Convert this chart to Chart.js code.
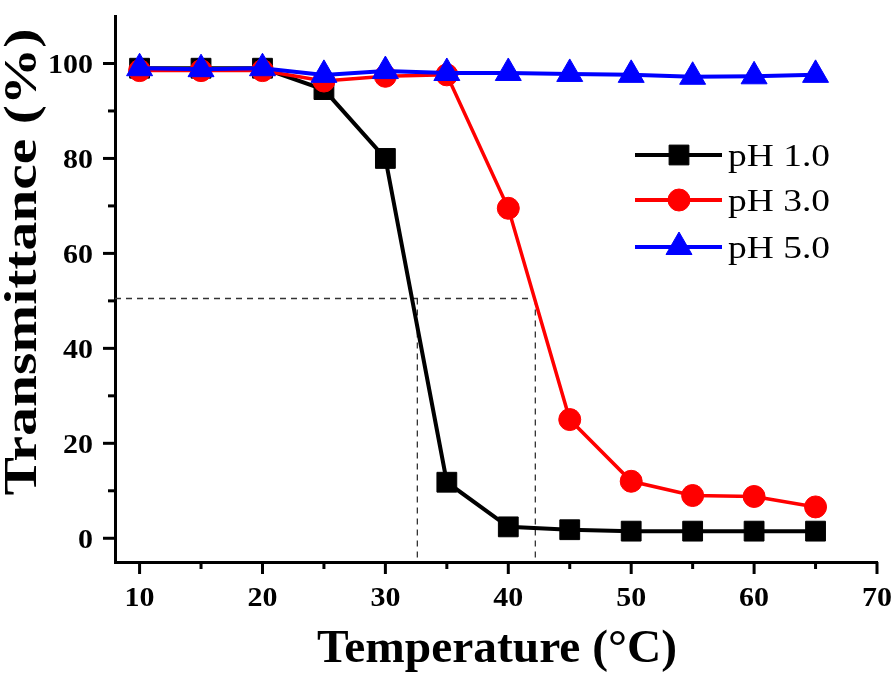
<!DOCTYPE html>
<html>
<head>
<meta charset="utf-8">
<script src="https://cdn.jsdelivr.net/npm/chart.js@4/dist/chart.umd.min.js"></script>
<style>
  html, body { margin: 0; padding: 0; background: #ffffff; }
  #wrap { width: 894px; height: 674px; position: relative; }
</style>
</head>
<body>
<div id="wrap"><canvas id="c" width="894" height="674"></canvas></div>
<script>
// ---- data ----
const temperatures = [10, 15, 20, 25, 30, 35, 40, 45, 50, 55, 60, 65];
const ph1 = [99, 99, 99, 94.5, 80, 11.8, 2.4, 1.8, 1.5, 1.5, 1.5, 1.5];
const ph3 = [98.5, 98.5, 98.5, 96.3, 97.3, 97.6, 69.5, 25, 12, 9, 8.8, 6.6];
const ph5 = [99, 98.8, 99, 97.6, 98.4, 98, 98, 97.8, 97.6, 97.2, 97.3, 97.6];
const seriesNames = ['pH 1.0', 'pH 3.0', 'pH 5.0'];
const xTickLabels = [10, 20, 30, 40, 50, 60, 70];
const yTickLabels = [0, 20, 40, 60, 80, 100];
const halfLevel = 50.5;
const lcstValues = [32.6, 42.2];
const xTitle = 'Temperature (°C)';
const yTitle = 'Transmittance (%)';

const X_MIN = 8, X_MAX = 70, Y_MIN = -5, Y_MAX = 110;

const toPts = (arr) => temperatures.map((t, i) => ({ x: t, y: arr[i] }));

const colors = ['#000000', '#ff0000', '#0000ff'];
const styles = ['rect', 'circle', 'triangle'];
const radii = [14, 11, 15];
const widths = [4, 3.5, 4];
const values = [ph1, ph3, ph5];

const datasets = values.map((v, i) => ({
  label: seriesNames[i],
  data: toPts(v),
  borderColor: colors[i],
  backgroundColor: colors[i],
  pointBackgroundColor: colors[i],
  pointBorderColor: colors[i],
  pointBorderWidth: 1,
  pointStyle: styles[i],
  pointRadius: radii[i],
  borderWidth: widths[i],
  tension: 0,
  order: 3 - i
}));

const dashStyle = {
  borderColor: '#333333',
  borderWidth: 1.3,
  borderDash: [6, 5],
  pointRadius: 0,
  tension: 0,
  order: 10
};
datasets.push(Object.assign({ label: '_h', data: [{ x: X_MIN, y: halfLevel }, { x: lcstValues[1], y: halfLevel }] }, dashStyle));
lcstValues.forEach((v) => {
  datasets.push(Object.assign({ label: '_v', data: [{ x: v, y: halfLevel }, { x: v, y: Y_MIN }] }, dashStyle));
});

const SERIF = '"Liberation Serif", "Times New Roman", serif';

function stretchText(ctx, text, x, y, sx) {
  ctx.save();
  ctx.translate(x, y);
  ctx.scale(sx, 1);
  ctx.fillText(text, 0, 0);
  ctx.restore();
}

const decorPlugin = {
  id: 'decor',
  afterDraw(chart) {
    const ctx = chart.ctx;
    const xs = chart.scales.x, ys = chart.scales.y;
    const area = chart.chartArea;
    ctx.save();
    // tick marks
    ctx.strokeStyle = '#000';
    ctx.lineWidth = 3;
    for (let v = 10; v <= 70; v += 5) {
      const px = xs.getPixelForValue(v);
      const len = (v % 10 === 0) ? 12 : 7;
      ctx.beginPath();
      ctx.moveTo(px, area.bottom);
      ctx.lineTo(px, area.bottom + len);
      ctx.stroke();
    }
    for (let v = 0; v <= 100; v += 10) {
      const py = ys.getPixelForValue(v);
      const len = (v % 20 === 0) ? 12 : 7;
      ctx.beginPath();
      ctx.moveTo(area.left, py);
      ctx.lineTo(area.left - len, py);
      ctx.stroke();
    }
    // tick labels
    ctx.fillStyle = '#000';
    ctx.font = 'bold 28px ' + SERIF;
    ctx.textBaseline = 'alphabetic';
    ctx.textAlign = 'center';
    xTickLabels.forEach((v) => {
      stretchText(ctx, String(v), xs.getPixelForValue(v), 606, 1.07);
    });
    ctx.textAlign = 'right';
    yTickLabels.forEach((v) => {
      stretchText(ctx, String(v), 93, ys.getPixelForValue(v) + 9.5, 1.07);
    });

    // axis titles
    ctx.font = 'bold 47px ' + SERIF;
    ctx.textAlign = 'center';
    let w = ctx.measureText(xTitle).width;
    stretchText(ctx, xTitle, 497, 662, 360 / w);

    w = ctx.measureText(yTitle).width;
    ctx.save();
    ctx.translate(36, 262);
    ctx.rotate(-Math.PI / 2);
    ctx.scale(467 / w, 1);
    ctx.fillText(yTitle, 0, 0);
    ctx.restore();

    // legend
    const rowsY = [155, 200, 247];
    chart.data.datasets.slice(0, 3).forEach((ds, i) => {
      const y = rowsY[i];
      ctx.strokeStyle = ds.borderColor;
      ctx.lineWidth = 4;
      ctx.beginPath();
      ctx.moveTo(635, y);
      ctx.lineTo(722, y);
      ctx.stroke();
      ctx.fillStyle = ds.borderColor;
      ctx.strokeStyle = ds.borderColor;
      ctx.lineWidth = 1;
      Chart.helpers.drawPoint(ctx, { pointStyle: ds.pointStyle, radius: ds.pointRadius, borderWidth: 1, rotation: 0 }, 679, y);
      ctx.fillStyle = '#000';
      ctx.font = '32px ' + SERIF;
      ctx.textAlign = 'left';
      ctx.textBaseline = 'alphabetic';
      const tw = ctx.measureText(ds.label).width;
      stretchText(ctx, ds.label, 728, y + 11, 102 / tw);
    });
    ctx.restore();
  }
};

new Chart(document.getElementById('c'), {
  type: 'line',
  data: { datasets },
  options: {
    responsive: false,
    animation: false,
    devicePixelRatio: 1,
    layout: { padding: { top: 5, right: 17, left: 0, bottom: 0 } },
    plugins: {
      legend: { display: false },
      tooltip: { enabled: false },
      title: { display: false }
    },
    scales: {
      x: {
        type: 'linear',
        min: X_MIN, max: X_MAX,
        afterFit: (s) => { s.height = 112; },
        grid: { display: false },
        border: { display: true, color: '#000', width: 3 },
        ticks: { display: false }
      },
      y: {
        type: 'linear',
        min: Y_MIN, max: Y_MAX,
        afterFit: (s) => { s.width = 115; },
        grid: { display: false },
        border: { display: true, color: '#000', width: 3 },
        ticks: { display: false }
      }
    }
  },
  plugins: [decorPlugin]
});
</script>
</body>
</html>
